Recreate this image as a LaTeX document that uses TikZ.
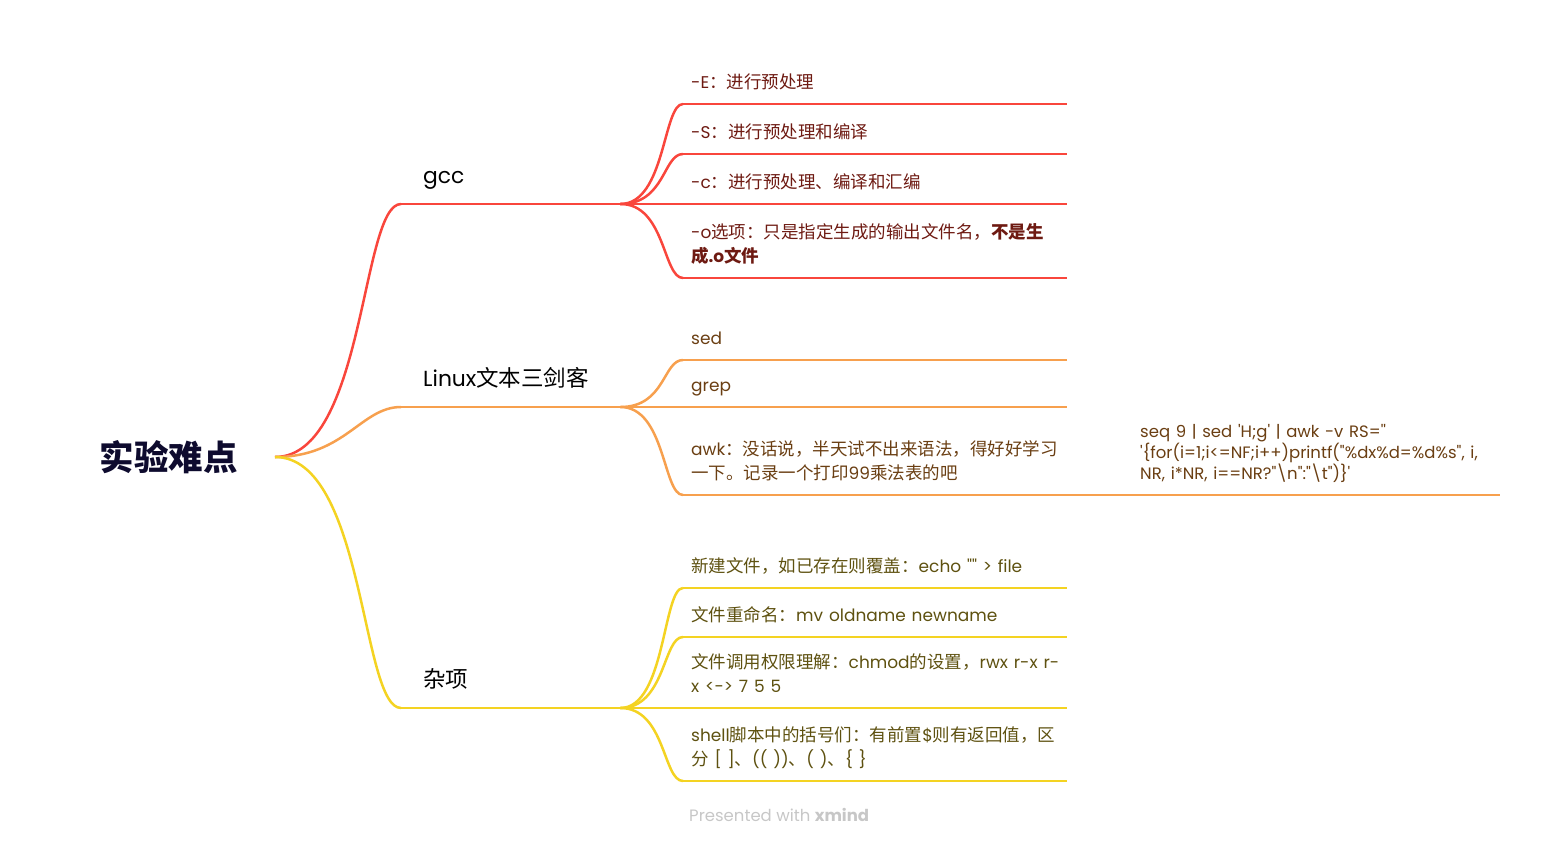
\documentclass[tikz,border=0pt]{standalone}
\usepackage{fontspec}
\setmainfont{Noto Sans CJK SC}
\newfontfamily\en{Poppins}[Scale=0.97]
\definecolor{redline}{HTML}{F9463C}
\definecolor{orangeline}{HTML}{F7A04E}
\definecolor{yellowline}{HTML}{F4D322}
\definecolor{redtext}{HTML}{6E1A12}
\definecolor{orangetext}{HTML}{6A3E12}
\definecolor{yellowtext}{HTML}{5E5110}
\definecolor{roottext}{HTML}{0E0B2E}
\tikzset{
    rootnode/.style = {anchor=east, inner xsep=37pt, inner ysep=0pt, font=\bfseries\fontsize{34.5pt}{40pt}\selectfont, text=roottext},
    mainnode/.style = {anchor=south west, text width=175pt, inner xsep=22pt, inner ysep=15pt, text depth=5pt, align=left, font=\fontsize{22.5pt}{28pt}\selectfont, text=black},
    subnode/.style = {anchor=south west, text width=368pt, inner xsep=8pt, inner ysep=11pt, text depth=4pt, align=left, font=\fontsize{17.5pt}{24pt}\selectfont},
    twolines/.style = {text depth=28pt},
    subnoder/.style = {subnode, text=redtext},
    subnodeo/.style = {subnode, text=orangetext},
    subnodey/.style = {subnode, text=yellowtext},
    edger/.style = {-, line width=2.5pt, redline},
    edgeo/.style = {-, line width=2.5pt, orangeline},
    edgey/.style = {-, line width=2.5pt, yellowline}
}

\begin{document}
\begin{tikzpicture}[x=1pt, y=-1pt]
\useasboundingbox (0,0) rectangle (1563,846);

\node[rootnode] at ( 275, 457) (root) {实验难点};

\node[mainnode] at ( 401, 204) (gcc) {{\en gcc}};
\node[mainnode] at ( 401, 407) (linux) {{\en Linux}文本三剑客};
\node[mainnode] at ( 401, 708) (misc) {杂项};

\node[subnoder] at ( 683, 104) (gE) {{\en -E}：进行预处理};
\node[subnoder] at ( 683, 154) (gS) {{\en -S}：进行预处理和编译};
\node[subnoder] at ( 683, 204) (gc) {{\en -c}：进行预处理、编译和汇编};
\node[subnoder, twolines] at ( 683, 278) (go) {{\en -o}选项：只是指定生成的输出文件名，{\bfseries 不是生}\\{\bfseries 成{\en .o}文件}};

\node[subnodeo] at ( 683, 360) (sed) {{\en sed}};
\node[subnodeo] at ( 683, 407) (grep) {{\en grep}};
\node[subnodeo, twolines] at ( 683, 495) (awk) {{\en awk}：没话说，半天试不出来语法，得好好学习\\一下。记录一个打印{\en 99}乘法表的吧};
\node[subnodeo, text width=350pt, inner xsep=10pt, text depth=46pt, font=\fontsize{17pt}{21pt}\selectfont] at (1130, 495) (seq) {\en \mbox{seq 9 | sed 'H;g' | awk -v RS='{}'}\\\mbox{'\{for(i=1;i<=NF;i++)printf("\%dx\%d=\%d\%s", i,}\\\mbox{NR, i*NR, i==NR?"\textbackslash n":"\textbackslash t")\}'}};

\node[subnodey] at ( 683, 588) (touch) {新建文件，如已存在则覆盖：{\en echo "" > file}};
\node[subnodey] at ( 683, 637) (mv) {文件重命名：{\en mv oldname newname}};
\node[subnodey, twolines] at ( 683, 708) (chmod) {\mbox{文件调用权限理解：{\en chmod}的设置，{\en rwx r-x r-}}\\{\en x <-> 7 5 5}};
\node[subnodey, twolines] at ( 683, 781) (brace) {{\en shell}脚本中的括号们：有前置{\en \$}则有返回值，区\\分 {\en [ ]}、{\en (( ))}、{\en ( )}、{\en \{ \}}};

\node[anchor=west, inner sep=0pt, font=\fontsize{17pt}{20pt}\selectfont, text=black!22] at ( 689, 815) (credit) {{\en Presented with {\bfseries xmind}}};

% root to main topics
\draw[edger] (root.east) .. controls +(90,0) and +(-40,0) .. (gcc.south west);
\draw[edgeo] (root.east) .. controls +(70,0) and +(-40,0) .. (linux.south west);
\draw[edgey] (root.east) .. controls +(90,0) and +(-40,0) .. (misc.south west);

\draw[edger] (gcc.south west) -- (gcc.south east);
\draw[edgeo] (linux.south west) -- (linux.south east);
\draw[edgey] (misc.south west) -- (misc.south east);

% gcc
\foreach \n in {gE, gS, gc, go} {
    \draw[edger] (gcc.south east) .. controls +(45,0) and +(-20,0) .. (\n.south west);
    \draw[edger] (\n.south west) -- (\n.south east);
}

% linux
\foreach \n in {sed, grep, awk} {
    \draw[edgeo] (linux.south east) .. controls +(45,0) and +(-20,0) .. (\n.south west);
    \draw[edgeo] (\n.south west) -- (\n.south east);
}
\draw[edgeo] (awk.south east) -- (seq.south west);
\draw[edgeo] (seq.south west) -- (seq.south east);

% misc
\foreach \n in {touch, mv, chmod, brace} {
    \draw[edgey] (misc.south east) .. controls +(45,0) and +(-20,0) .. (\n.south west);
    \draw[edgey] (\n.south west) -- (\n.south east);
}

\end{tikzpicture}
\end{document}
